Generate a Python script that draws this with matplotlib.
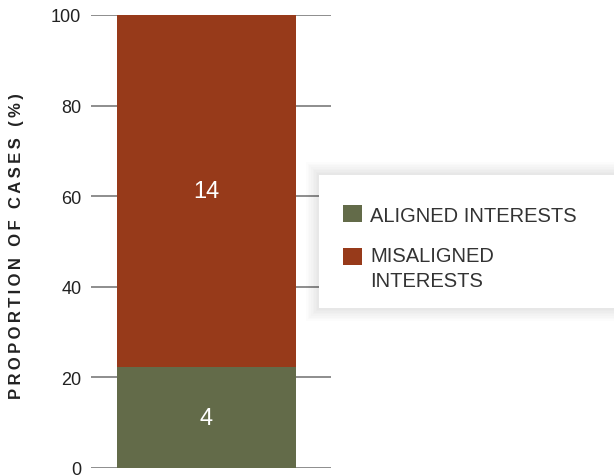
import matplotlib.pyplot as plt
from matplotlib.patches import FancyBboxPatch, Rectangle
from matplotlib.legend_handler import HandlerPatch

# data
categories = ["ALIGNED INTERESTS", "MISALIGNED\nINTERESTS"]
counts = [4, 14]
colors = ["#636b49", "#973a1a"]
yticks = [0, 20, 40, 60, 80, 100]

plt.rcParams['font.family'] = ['Liberation Sans', 'DejaVu Sans']

total = sum(counts)
shares = [c / total * 100 for c in counts]

fig = plt.figure(figsize=(6.14, 4.77), dpi=100)
ax = fig.add_axes([91 / 614, 1 - 469 / 477, 240 / 614, 453 / 477])

bars = []
bottom = 0
for cat, cnt, share, col in zip(categories, counts, shares, colors):
    b = ax.bar(0, share, width=0.746, bottom=bottom, color=col, label=cat, zorder=2)
    bars.append(b)
    ax.text(0, bottom + share / 2, str(cnt), color="white", fontsize=17,
            ha="center", va="center", zorder=3)
    bottom += share

ax.set_xlim(-0.481, 0.519)
ax.set_ylim(0, 100)
ax.set_yticks(yticks)
ax.set_xticks([])
ax.tick_params(axis="y", length=0, pad=7, labelsize=13, labelcolor="#222222")
for s in ax.spines.values():
    s.set_visible(False)
ax.yaxis.grid(True, color="#7a7a7a", linewidth=1.2, zorder=1)
ax.set_axisbelow(True)

label = "\u2009".join("PROPORTION OF CASES (%)")
fig.text(17 / 614, 1 - 246 / 477, label, rotation=90, ha="center", va="center",
         fontsize=12, fontweight="bold", color="#222222")

# legend box with soft shadow
bx0, by0 = 319 / 614, 1 - 309 / 477
bw, bh = 320 / 614, 133 / 477
for i in range(8, 0, -1):
    d = i * 1.6
    sh = FancyBboxPatch((bx0 - d / 614, by0 - d / 477), bw + 2 * d / 614, bh + 2 * d / 477,
                        boxstyle="square,pad=0", transform=fig.transFigure,
                        facecolor="#000000", edgecolor="none", alpha=0.012, zorder=4)
    fig.patches.append(sh)
box = FancyBboxPatch((bx0, by0), bw, bh, boxstyle="square,pad=0",
                     transform=fig.transFigure, facecolor="white",
                     edgecolor="none", zorder=5)
fig.patches.append(box)


def top_patch(legend, orig_handle, xdescent, ydescent, width, height, fontsize):
    # put the swatch next to the first line of a two-line label
    return Rectangle((-xdescent, -ydescent + 0.6 * fontsize), width, height)


leg = fig.legend(handles=[b[0] for b in bars], labels=categories,
                 loc="upper left", bbox_to_anchor=(325 / 614, 1 - 188 / 477),
                 frameon=False, fontsize=14.5, handlelength=0.92, handleheight=0.92,
                 handletextpad=0.42, labelspacing=1.08, labelcolor="#333333",
                 handler_map={bars[1][0]: HandlerPatch(patch_func=top_patch)})
for t in leg.get_texts():
    t.set_linespacing(1.4)
leg.set_zorder(6)

fig.savefig("out.png", dpi=100)
